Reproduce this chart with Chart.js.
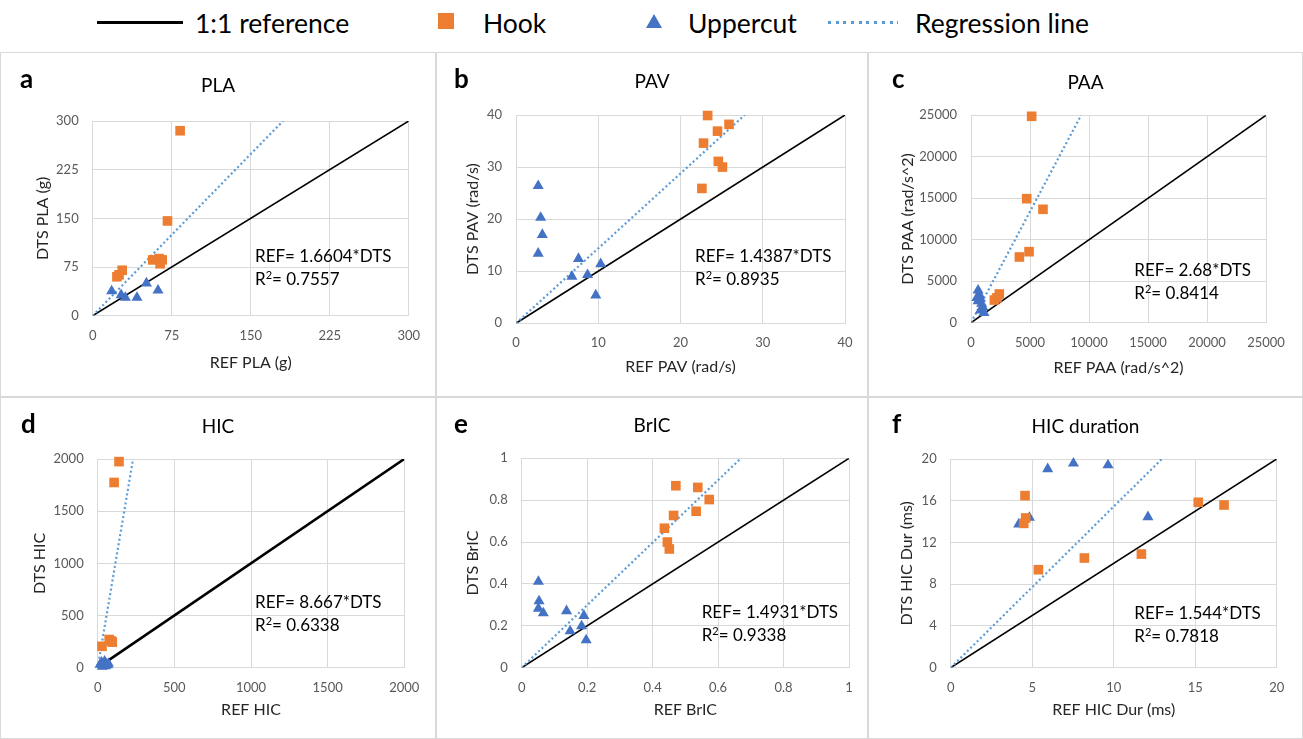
<!DOCTYPE html>
<html>
<head>
<meta charset="utf-8">
<script src="https://cdn.jsdelivr.net/npm/chart.js@4.4.0/dist/chart.umd.min.js"></script>
<style>
  body { margin: 0; width: 1303px; height: 739px; background: #fff; position: relative; overflow: hidden; font-family: Lato, sans-serif; }
  .panel { position: absolute; box-sizing: border-box; border: 1px solid #d9d9d9; }
  .panel canvas { position: absolute; left: 0; top: 0; }
  .letter { position: absolute; font-weight: bold; font-size: 26px; line-height: 26px; color: #000; }
  .eq { position: absolute; font-size: 17px; line-height: 23px; color: #000; white-space: nowrap; }
  .eq sup { font-size: 11px; vertical-align: 6px; line-height: 0; }
  .lg { position: absolute; font-size: 26.5px; line-height: 30px; top: 8px; color: #000; white-space: nowrap; }
</style>
</head>
<body>

<!-- legend -->
<div style="position:absolute;left:97px;top:21px;width:86px;height:3px;background:#000"></div>
<div class="lg" style="left:195px">1:1 reference</div>
<div style="position:absolute;left:438px;top:13px;width:16px;height:16px;background:#ed7d31"></div>
<div class="lg" style="left:483px">Hook</div>
<div style="position:absolute;left:646px;top:14px;width:0;height:0;border-left:8.5px solid transparent;border-right:8.5px solid transparent;border-bottom:14px solid #4472c4"></div>
<div class="lg" style="left:688px">Uppercut</div>
<div style="position:absolute;left:828px;top:21px;width:70px;height:3px;background:repeating-linear-gradient(to right,#5b9bd5 0 3px,transparent 3px 7.7px)"></div>
<div class="lg" style="left:915px">Regression line</div>

<script>
// ---- data ----
const panelLetters = ['a', 'b', 'c', 'd', 'e', 'f'];
const panelTitles = ['PLA', 'PAV', 'PAA', 'HIC', 'BrIC', 'HIC duration'];
const xTitles = ['REF PLA (g)', 'REF PAV (rad/s)', 'REF PAA (rad/s^2)', 'REF HIC', 'REF BrIC', 'REF HIC Dur (ms)'];
const yTitles = ['DTS PLA (g)', 'DTS PAV (rad/s)', 'DTS PAA (rad/s^2)', 'DTS HIC', 'DTS BrIC', 'DTS HIC Dur (ms)'];
const axisMax = [300, 40, 25000, 2000, 1, 20];
const xSteps = [75, 10, 5000, 500, 0.2, 5];
const ySteps = [75, 10, 5000, 500, 0.2, 4];
const slopes = [1.6604, 1.4387, 2.68, 8.667, 1.4931, 1.544];
const slopeText = ['1.6604', '1.4387', '2.68', '8.667', '1.4931', '1.544'];
const r2Text = ['0.7557', '0.8935', '0.8414', '0.6338', '0.9338', '0.7818'];

// [REF, DTS] pairs
const plaHook = [[83, 285], [71, 146], [57, 86], [63, 88], [66, 86], [64, 80], [28, 70], [23, 60], [25, 63]];
const plaUpper = [[18, 38], [27, 32], [31, 28], [42, 28], [51, 50], [62, 39]];
const pavHook = [[23.3, 39.9], [24.5, 36.9], [25.9, 38.2], [22.8, 34.6], [24.6, 31.1], [25.1, 30.0], [22.6, 25.9]];
const pavUpper = [[2.7, 26.4], [3.0, 20.3], [3.2, 17.0], [2.7, 13.4], [7.6, 12.4], [10.3, 11.4], [6.8, 9.0], [8.7, 9.3], [9.7, 5.4]];
const paaHook = [[5140, 24880], [4720, 14950], [6100, 13670], [4100, 7920], [4920, 8560], [2400, 3460], [1980, 2730], [2200, 3000]];
const paaUpper = [[600, 3900], [700, 3400], [500, 3000], [800, 2900], [600, 2600], [900, 2300], [1000, 1900], [800, 1500], [1100, 1200]];
const hicHook = [[139, 1975], [107, 1775], [28, 205], [75, 270], [90, 255], [95, 245]];
const hicUpper = [[15, 30], [25, 50], [35, 20], [45, 60], [55, 35], [65, 25], [30, 12], [50, 15], [70, 40]];
const bricHook = [[0.471, 0.869], [0.538, 0.861], [0.573, 0.803], [0.533, 0.747], [0.464, 0.727], [0.436, 0.666], [0.445, 0.600], [0.451, 0.567]];
const bricUpper = [[0.051, 0.411], [0.053, 0.318], [0.051, 0.283], [0.066, 0.261], [0.137, 0.271], [0.19, 0.248], [0.148, 0.175], [0.183, 0.199], [0.197, 0.132]];
const durHook = [[4.56, 16.49], [4.6, 14.35], [4.48, 13.83], [5.38, 9.39], [8.2, 10.51], [11.7, 10.89], [15.19, 15.85], [16.77, 15.59]];
const durUpper = [[5.95, 19.04], [7.53, 19.58], [9.65, 19.42], [12.1, 14.44], [4.83, 14.38], [4.17, 13.74]];

const hookSets = [plaHook, pavHook, paaHook, hicHook, bricHook, durHook];
const upperSets = [plaUpper, pavUpper, paaUpper, hicUpper, bricUpper, durUpper];

// ---- page layout (pixels) ----
// box: [left, top, width, height]; plot: [L, T, R, B]
const frames = [
  { box: [0, 52, 436, 345], plot: [92.7, 121, 408.7, 315.7], titleY: 85.7, xTitleY: 363.3, yTitleX: 42.7, letter: [20, 65.4], eq: [255, 262.3] },
  { box: [436, 52, 432, 345], plot: [516, 115, 845, 323.3], titleY: 81.7, xTitleY: 366.7, yTitleX: 472.7, letter: [454, 65.4], eq: [695, 262.3] },
  { box: [868, 52, 435, 345], plot: [971, 115.3, 1266, 322.7], titleY: 82.7, xTitleY: 368.3, yTitleX: 908.3, letter: [892, 65.4], eq: [1134.3, 275.7] },
  { box: [0, 397, 436, 342], plot: [97.7, 459, 404.3, 667.7], titleY: 426.7, xTitleY: 710, yTitleX: 40, letter: [21, 410], eq: [255, 608.3] },
  { box: [436, 397, 432, 342], plot: [521.7, 458.3, 849, 667.7], titleY: 426, xTitleY: 710, yTitleX: 472.7, letter: [454, 410], eq: [701.7, 617.7] },
  { box: [868, 397, 435, 342], plot: [950.7, 459, 1276.7, 667.7], titleY: 426.7, xTitleY: 710, yTitleX: 906.7, letter: [892, 410], eq: [1134.3, 619] }
];

Chart.defaults.font.family = 'Lato';

const TITLE_SIZE = 19, AXIS_TITLE_SIZE = 16, TICK_SIZE = 13;
const fmt = v => String(+(+v).toFixed(4));

function toPoints(arr) {
  return arr.map(p => ({ x: p[0], y: p[1] }));
}

function makePanel(i) {
  const f = frames[i];
  const [bl, bt, bw, bh] = f.box;
  const cx = bl + 1, cy = bt + 1, cw = bw - 2, ch = bh - 2;
  const [L, T, R, B] = f.plot;

  const yW = L - cx;
  const rightGap = cx + cw - R;
  const xH = cy + ch - B;
  const tLh = TITLE_SIZE * 1.2, aLh = AXIS_TITLE_SIZE * 1.2;
  const tTop = f.titleY - cy - tLh / 2;
  const tBot = (T - cy) - tLh - tTop;
  const xTitlePad = xH - aLh / 2 - (f.xTitleY - B);
  const yTitlePad = f.yTitleX - cx - aLh / 2;

  const div = document.createElement('div');
  div.className = 'panel';
  div.style.left = bl + 'px';
  div.style.top = bt + 'px';
  div.style.width = bw + 'px';
  div.style.height = bh + 'px';
  const canvas = document.createElement('canvas');
  canvas.width = cw;
  canvas.height = ch;
  div.appendChild(canvas);
  document.body.appendChild(div);

  const letter = document.createElement('div');
  letter.className = 'letter';
  letter.style.left = f.letter[0] + 'px';
  letter.style.top = f.letter[1] + 'px';
  letter.textContent = panelLetters[i];
  document.body.appendChild(letter);

  const eq = document.createElement('div');
  eq.className = 'eq';
  eq.style.left = f.eq[0] + 'px';
  eq.style.top = (f.eq[1] - 18.1) + 'px';
  eq.innerHTML = 'REF= ' + slopeText[i] + '*DTS<br>R<sup>2</sup>= ' + r2Text[i];
  document.body.appendChild(eq);

  const max = axisMax[i];

  new Chart(canvas, {
    type: 'scatter',
    data: {
      datasets: [
        {
          label: 'Hook',
          data: toPoints(hookSets[i]),
          pointStyle: 'rect',
          pointRadius: 6.8,
          backgroundColor: '#ed7d31',
          borderColor: '#ed7d31',
          borderWidth: 0,
          clip: false
        },
        {
          label: 'Uppercut',
          data: toPoints(upperSets[i]),
          pointStyle: 'triangle',
          pointRadius: 6.4,
          backgroundColor: '#4472c4',
          borderColor: '#4472c4',
          borderWidth: 0,
          clip: false
        },
        {
          label: 'Regression line',
          data: [{ x: 0, y: 0 }, { x: max / slopes[i], y: max }],
          showLine: true,
          borderColor: '#5b9bd5',
          borderWidth: 2.2,
          borderDash: [2, 2.6],
          pointRadius: 0
        },
        {
          label: '1:1 reference',
          data: [{ x: 0, y: 0 }, { x: max, y: max }],
          showLine: true,
          borderColor: '#000',
          borderWidth: i === 3 ? 2.6 : 1.6,
          pointRadius: 0
        }
      ]
    },
    options: {
      responsive: false,
      animation: false,
      events: [],
      layout: { padding: 0 },
      plugins: {
        legend: { display: false },
        tooltip: { enabled: false },
        title: {
          display: true,
          text: panelTitles[i],
          color: '#000',
          font: { size: TITLE_SIZE, weight: 'normal' },
          padding: { top: tTop, bottom: tBot }
        }
      },
      scales: {
        x: {
          type: 'linear',
          min: 0,
          max: max,
          ticks: { stepSize: xSteps[i], padding: 12, color: '#595959', font: { size: TICK_SIZE }, callback: fmt, maxRotation: 0 },
          grid: { color: '#d9d9d9', drawTicks: false },
          border: { color: '#d9d9d9' },
          title: { display: true, text: xTitles[i], color: '#262626', font: { size: AXIS_TITLE_SIZE }, padding: { top: 0, bottom: xTitlePad } },
          afterFit: s => { s.height = xH; }
        },
        y: {
          type: 'linear',
          min: 0,
          max: max,
          ticks: { stepSize: ySteps[i], padding: 14, color: '#595959', font: { size: TICK_SIZE }, callback: fmt },
          grid: { color: '#d9d9d9', drawTicks: false },
          border: { color: '#d9d9d9' },
          title: { display: true, text: yTitles[i], color: '#262626', font: { size: AXIS_TITLE_SIZE }, padding: { top: yTitlePad, bottom: 0 } },
          afterFit: s => { s.width = yW; }
        },
        y2: {
          type: 'linear',
          position: 'right',
          display: true,
          ticks: { display: false },
          grid: { display: false },
          border: { display: false },
          afterFit: s => { s.width = rightGap; }
        }
      }
    }
  });
}

for (let i = 0; i < 6; i++) makePanel(i);
</script>
</body>
</html>
